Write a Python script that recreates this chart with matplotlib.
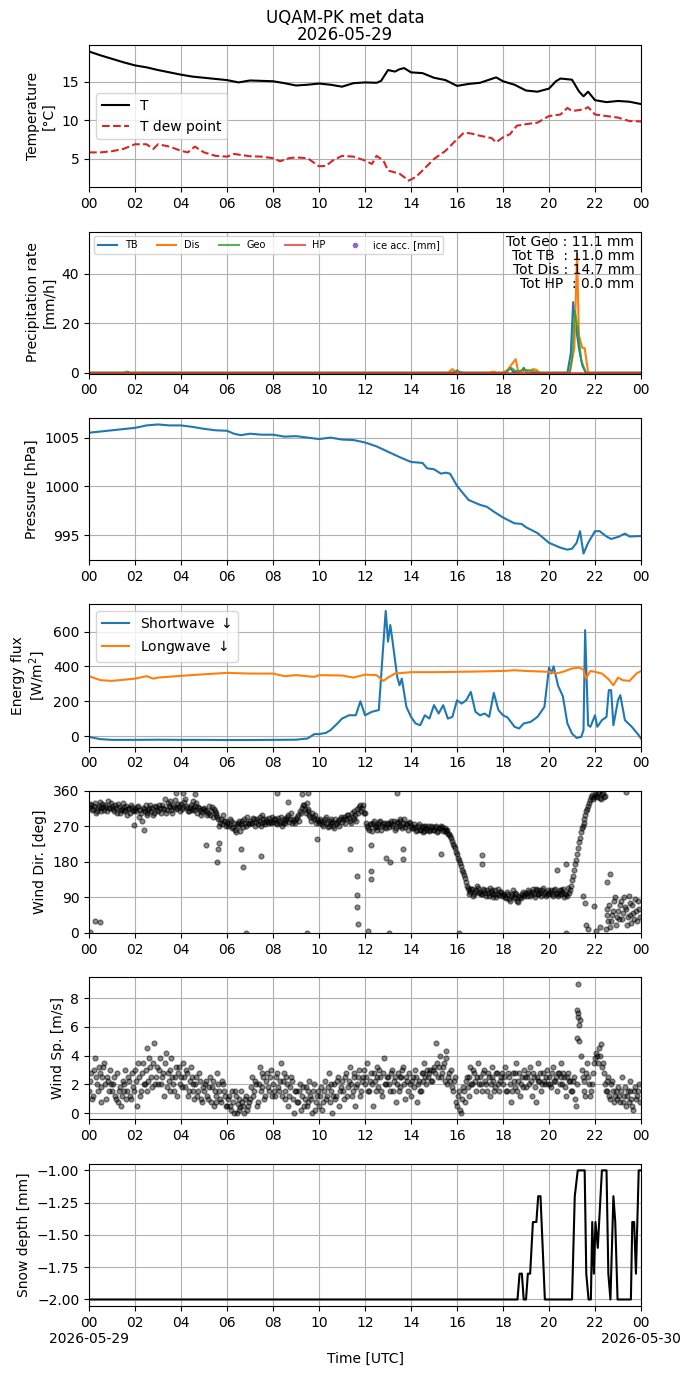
import numpy as np
import pandas as pd
import matplotlib
matplotlib.use('Agg')
import matplotlib.pyplot as plt
import matplotlib.dates as mdates
from matplotlib.ticker import FuncFormatter

day0 = pd.Timestamp('2026-05-29')

# ---- temperature [degC]
t_hours = [0, 0.5, 1, 1.5, 2, 2.5, 3, 3.5, 4, 4.5, 5, 5.5, 6, 6.5, 7, 7.5, 8, 8.5, 9, 9.5,
           10, 10.5, 11, 11.5, 12, 12.5, 12.7, 13, 13.3, 13.5, 13.7, 14, 14.5, 15, 15.5, 16,
           16.5, 17, 17.5, 17.7, 18, 18.5, 19, 19.5, 20, 20.3, 20.5, 21, 21.3, 21.5, 21.7,
           22, 22.5, 23, 23.5, 24]
t_air = [18.9, 18.4, 17.95, 17.5, 17.1, 16.85, 16.5, 16.2, 15.9, 15.65, 15.5, 15.35, 15.2,
         14.9, 15.15, 15.1, 15.05, 14.8, 14.5, 14.6, 14.75, 14.6, 14.35, 14.8, 14.9, 14.85,
         15.1, 16.5, 16.3, 16.6, 16.75, 16.2, 16.1, 15.5, 15.2, 14.45, 14.7, 14.85, 15.35,
         15.55, 15.05, 14.6, 13.85, 13.7, 14.1, 15.05, 15.4, 15.25, 13.75, 13.1, 13.7, 12.6,
         12.35, 12.5, 12.4, 12.1]
td_hours = [0, 0.5, 1, 1.5, 2, 2.5, 2.8, 3, 3.5, 4, 4.3, 4.6, 5, 5.5, 6, 6.3, 7, 7.5, 8, 8.3,
            8.7, 9, 9.5, 10, 10.3, 10.6, 11, 11.5, 12, 12.3, 12.5, 12.8, 13, 13.5, 13.9, 14.2,
            14.5, 15, 15.5, 16, 16.3, 16.6, 17, 17.5, 17.7, 18, 18.3, 18.6, 19, 19.5, 20,
            20.5, 20.8, 21, 21.5, 21.7, 22, 22.5, 23, 23.5, 24]
t_dew = [5.85, 5.85, 6.0, 6.3, 6.9, 6.9, 6.3, 6.9, 6.6, 6.05, 5.85, 6.6, 5.85, 5.4, 5.3, 5.65,
         5.35, 5.3, 5.1, 4.7, 5.1, 5.2, 5.1, 4.05, 4.1, 4.8, 5.4, 5.3, 4.8, 4.35, 5.4, 4.8,
         3.5, 3.1, 2.2, 2.65, 3.5, 5.0, 6.05, 7.55, 8.4, 8.3, 8.0, 7.7, 7.15, 7.8, 8.2, 9.3,
         9.5, 9.7, 10.55, 10.75, 11.6, 11.2, 11.4, 11.7, 10.75, 10.55, 10.35, 9.9, 9.85]

# ---- precipitation rate [mm/h]
tb_hours = [0, 15.7, 15.9, 16.0, 16.1, 16.3, 18.0, 18.2, 18.3, 18.45, 18.8, 18.9, 19.0, 19.3,
            20.8, 20.95, 21.05, 21.15, 21.3, 21.45, 21.6, 24]
tb_rate = [0, 0, 0.3, 1.0, 0.3, 0, 0, 0.8, 2.2, 0.3, 0.5, 2.0, 0.4, 0, 0, 8, 28.5, 20, 10, 3,
           0, 0]
dis_hours = [0, 15.6, 15.8, 15.95, 16.2, 17.4, 17.6, 17.7, 18.0, 18.2, 18.55, 18.65, 18.75,
             19.0, 19.15, 19.3, 19.45, 19.6, 20.9, 21.1, 21.22, 21.3, 21.45, 21.55, 21.7, 24]
dis_rate = [0, 0, 1.5, 0.4, 0, 0, 0.5, 0, 0, 1.2, 5.5, 1.0, 0.3, 1.0, 0.3, 1.5, 1.2, 0, 0, 10,
            48, 15, 10, 10, 0, 0]
geo_hours = [0, 1.5, 1.65, 1.8, 15.8, 16.0, 16.2, 18.1, 18.35, 18.6, 18.9, 19.2, 19.6, 20.9,
             21.0, 21.12, 21.25, 21.4, 21.6, 24]
geo_rate = [0, 0, 0.5, 0, 0, 0.6, 0, 0, 2.0, 0.5, 1.2, 1.0, 0, 0, 6, 25, 18, 5, 0, 0]
hp_hours = [0, 24]
hp_rate = [0, 0]
ice_hours = []
ice_acc = []
totals_txt = 'Tot Geo : 11.1 mm\nTot TB  : 11.0 mm\nTot Dis : 14.7 mm\nTot HP  : 0.0 mm'

# ---- pressure [hPa]
p_hours = [0, 1, 2, 2.5, 3, 3.5, 4, 4.5, 5, 5.5, 6, 6.3, 6.6, 7, 7.5, 8, 8.5, 9, 9.5, 10,
           10.5, 11, 11.5, 12, 12.5, 13, 13.5, 14, 14.5, 14.7, 15, 15.3, 15.5, 15.7, 16, 16.5,
           17, 17.3, 17.6, 18, 18.5, 18.8, 19, 19.5, 20, 20.5, 20.8, 21, 21.2, 21.35, 21.5,
           21.7, 22, 22.2, 22.5, 22.7, 23, 23.3, 23.5, 24]
pres = [1005.5, 1005.75, 1006.0, 1006.25, 1006.35, 1006.25, 1006.25, 1006.1, 1005.9,
        1005.75, 1005.7, 1005.4, 1005.25, 1005.4, 1005.3, 1005.3, 1005.1, 1005.15, 1005.0,
        1004.85, 1005.0, 1004.8, 1004.75, 1004.5, 1004.1, 1003.55, 1003.0, 1002.5, 1002.4,
        1001.85, 1001.75, 1001.3, 1001.4, 1001.3, 1000.05, 998.6, 998.1, 997.9, 997.4, 996.8,
        996.2, 996.15, 995.8, 995.2, 994.2, 993.7, 993.5, 993.6, 994.2, 995.4, 993.1, 994.2,
        995.4, 995.4, 994.85, 994.6, 994.8, 995.15, 994.85, 994.9]

# ---- radiation [W/m2]
sw_hours = [0, 0.5, 1, 2, 3, 4, 5, 6, 7, 8, 9, 9.5, 9.8, 10, 10.3, 10.5, 10.8, 11, 11.3,
            11.6, 11.8, 12.0, 12.3, 12.6, 12.8, 12.9, 13.0, 13.1, 13.2, 13.4, 13.5, 13.6,
            13.8, 14.0, 14.2, 14.4, 14.6, 14.8, 15.0, 15.2, 15.4, 15.6, 15.8, 16.0, 16.2,
            16.4, 16.6, 16.8, 17.0, 17.2, 17.4, 17.6, 17.8, 18.0, 18.2, 18.5, 18.7, 18.9,
            19.2, 19.5, 19.8, 20.0, 20.1, 20.2, 20.4, 20.6, 20.8, 21.0, 21.2, 21.4, 21.5,
            21.57, 21.7, 21.8, 22.0, 22.1, 22.3, 22.5, 22.6, 22.7, 22.8, 23.0, 23.1, 23.3,
            23.6, 23.9, 24]
sw_down = [-4, -17, -21, -21, -20, -21, -21, -22, -22, -21, -20, -13, 12, 12, 19, 35, 73,
           101, 120, 120, 200, 120, 140, 150, 532, 718, 542, 637, 542, 340, 292, 330, 168,
           111, 73, 63, 120, 101, 178, 130, 178, 101, 111, 206, 187, 206, 254, 140, 120, 130,
           111, 248, 150, 120, 107, 54, 44, 73, 82, 111, 168, 394, 360, 400, 287, 230, 73,
           15, -10, -4, 35, 608, 63, 54, 120, 54, 92, 111, 264, 264, 63, 206, 235, 92, 54, 6,
           -13]
lw_hours = [0, 0.5, 1, 2, 2.5, 2.8, 3, 4, 5, 6, 7, 8, 8.5, 9, 9.8, 10, 11, 11.5, 12, 12.5,
            12.8, 13.0, 13.3, 14, 15, 16, 17, 18, 18.5, 19, 20, 20.3, 20.6, 21.0, 21.3, 21.5,
            21.6, 21.8, 22.0, 22.3, 22.6, 22.8, 23.0, 23.2, 23.5, 23.8, 24]
lw_down = [344, 321, 317, 330, 344, 330, 336, 346, 355, 363, 359, 359, 344, 350, 340, 350,
           348, 336, 353, 350, 317, 336, 359, 367, 367, 369, 371, 374, 378, 374, 369, 359,
           369, 388, 393, 382, 330, 374, 369, 359, 325, 292, 336, 321, 317, 359, 374]

# ---- wind direction [deg], samples every 5 min (a) and the ones in between (b)
wdir_a = [320, 325, 315, 330, 310, 322, 318, 328, 312, 320, 335, 316,
          322, 310, 318, 326, 305, 315, 320, 312, 300, 318, 325, 310,
          315, 320, 295, 305, 318, 310, 300, 312, 325, 316, 305, 320,
          310, 318, 325, 315, 305, 330, 320, 312, 325, 338, 318, 322,
          328, 320, 340, 316, 310, 325, 318, 312, 330, 320, 312, 306,
          318, 310, 305, 300, 320, 315, 300, 295, 270, 290, 300, 285,
          280, 275, 285, 268, 262, 275, 280, 258, 285, 290, 272, 280,
          285, 278, 290, 282, 275, 295, 280, 288, 276, 285, 292, 280,
          282, 290, 275, 285, 295, 280, 278, 290, 300, 288, 280, 284,
          290, 300, 310, 318, 325, 305, 315, 300, 285, 295, 300, 290,
          278, 285, 270, 288, 280, 272, 290, 282, 265, 278, 285, 290,
          282, 295, 288, 300, 285, 305, 290, 298, 315, 320, 310, 325,
          305, 270, 262, 275, 280, 268, 260, 275, 285, 270, 278, 265,
          275, 280, 270, 285, 265, 278, 290, 272, 280, 268, 275, 282,
          272, 265, 268, 260, 275, 262, 270, 258, 265, 272, 260, 268,
          262, 270, 258, 265, 268, 260, 255, 262, 250, 240, 225, 215,
          200, 185, 170, 155, 140, 120, 110, 105, 112, 98, 108, 115,
          105, 98, 110, 95, 102, 115, 100, 92, 108, 100, 96, 104,
          100, 92, 105, 85, 95, 110, 88, 98, 78, 92, 100, 95,
          102, 110, 95, 105, 98, 112, 100, 108, 95, 115, 105, 98,
          100, 108, 95, 112, 102, 98, 110, 105, 92, 100, 115, 108,
          135, 160, 185, 215, 240, 265, 280, 300, 315, 330, 345, 340,
          352, 345, 358, 340, 355, 348, 60, 30, 15, 45, 80, 20,
          55, 70, 35, 90, 60, 40, 75, 25, 50, 85, 30, 60]
wdir_b = [328, 312, 322, 305, 318, 332, 310, 320, 325, 308, 318, 330,
          315, 325, 305, 320, 312, 330, 308, 322, 315, 305, 320, 312,
          308, 322, 312, 285, 315, 325, 305, 318, 310, 300, 322, 312,
          325, 305, 318, 340, 312, 322, 335, 305, 320, 315, 328, 310,
          315, 332, 322, 308, 320, 312, 335, 322, 305, 318, 300, 315,
          312, 300, 322, 308, 295, 310, 305, 290, 280, 275, 285, 270,
          272, 288, 265, 280, 255, 270, 285, 275, 268, 280, 295, 275,
          280, 292, 272, 288, 285, 270, 298, 282, 290, 278, 282, 295,
          288, 278, 292, 280, 272, 290, 285, 295, 282, 305, 290, 278,
          295, 285, 305, 325, 315, 330, 310, 295, 305, 290, 280, 285,
          290, 275, 282, 295, 268, 285, 278, 270, 288, 280, 272, 295,
          290, 280, 300, 292, 278, 295, 310, 285, 305, 325, 318, 305,
          280, 265, 275, 258, 285, 272, 268, 282, 262, 276, 268, 280,
          268, 285, 275, 262, 282, 270, 285, 265, 290, 275, 262, 278,
          265, 275, 258, 270, 262, 268, 255, 272, 262, 258, 270, 262,
          268, 255, 265, 272, 258, 265, 262, 250, 245, 232, 220, 205,
          190, 178, 160, 148, 130, 115, 100, 112, 95, 105, 118, 102,
          98, 112, 102, 108, 95, 105, 110, 98, 92, 112, 105, 95,
          96, 88, 100, 80, 98, 92, 102, 82, 95, 88, 105, 100,
          95, 105, 100, 112, 92, 108, 98, 102, 110, 100, 95, 108,
          105, 98, 110, 100, 95, 108, 98, 112, 100, 95, 102, 120,
          145, 175, 200, 230, 255, 272, 290, 310, 322, 338, 350, 345,
          348, 355, 342, 352, 345, 10, 45, 70, 30, 55, 90, 40,
          35, 80, 50, 65, 20, 95, 45, 70, 35, 55, 80, 40]
wdir_extra_hours = [0.05, 0.24, 0.48, 1.95, 2.4, 3.8, 4.1, 4.6, 5.07, 5.55, 5.6, 5.63, 6.62,
                    6.69, 6.81, 7.48, 8.16, 8.67, 9.27, 9.46, 9.54, 9.9, 11.36, 11.65, 11.65,
                    11.65, 11.7, 12.12, 12.25, 12.28, 12.25, 12.92, 13.07, 13.04, 13.4, 13.63,
                    13.63, 15.3, 16.09, 17.07, 17.07, 20.36, 20.76, 20.76, 21.47, 21.55,
                    21.6, 21.7, 21.95, 22.05, 22.2, 22.66, 22.5, 23.33]
wdir_extra = [3, 31, 27, 273, 261, 356, 356, 352, 223, 179, 212, 229, 212, 166, 0, 194, 356,
              333, 352, 0, 356, 238, 214, 145, 96, 67, 23, 6, 158, 138, 223, 189, 179, 0, 356,
              187, 212, 200, 0, 197, 174, 160, 0, 174, 93, 77, 20, 10, 69, 5, 15, 149, 130,
              357]

# ---- wind speed [m/s]
wspd_a = [1.5, 2.8, 1.2, 3.8, 2.0, 3.2, 1.8, 2.5, 3.5, 1.0, 2.2, 3.0,
          1.5, 2.5, 1.0, 0.8, 1.8, 1.2, 2.0, 3.0, 1.5, 2.2, 1.0, 1.8,
          3.0, 0.5, 2.5, 1.5, 3.5, 2.0, 4.5, 2.2, 3.2, 1.8, 4.85, 2.5,
          2.0, 3.8, 2.5, 1.2, 4.2, 2.8, 1.5, 3.8, 2.0, 2.5, 1.2, 3.2,
          2.5, 3.5, 1.8, 2.8, 1.5, 3.2, 2.0, 1.0, 2.5, 1.5, 2.2, 0.8,
          1.5, 2.2, 1.0, 2.5, 1.8, 0.5, 1.2, 2.8, 1.5, 0.8, 2.0, 1.2,
          0.5, 1.2, 0.2, 0.8, 1.5, 0.0, 1.0, 0.4, 0.8, 0.0, 1.2, 0.5,
          1.0, 2.5, 1.5, 2.0, 0.8, 3.2, 1.8, 2.5, 1.2, 2.8, 1.5, 3.0,
          2.0, 1.2, 2.8, 1.5, 3.5, 2.2, 1.0, 2.5, 0.5, 1.8, 2.2, 0.0,
          1.5, 0.8, 2.0, 1.2, 0.5, 1.8, 0.8, 2.2, 1.0, 1.5, 0.2, 1.2,
          0.5, 1.8, 0.8, 2.2, 1.2, 2.8, 1.5, 0.0, 2.0, 1.2, 2.5, 1.5,
          2.2, 1.0, 2.8, 1.8, 3.2, 1.2, 2.5, 0.5, 2.0, 3.0, 1.5, 2.5,
          2.0, 3.5, 1.5, 2.8, 0.5, 2.2, 3.2, 1.8, 2.5, 1.2, 3.8, 2.0,
          2.5, 1.5, 3.0, 2.2, 0.8, 2.8, 1.8, 2.5, 3.2, 1.0, 2.2, 2.8,
          1.2, 2.5, 3.0, 0.8, 2.2, 1.5, 2.8, 3.5, 2.0, 2.5, 3.0, 2.2,
          3.2, 4.85, 2.5, 4.0, 2.8, 3.5, 4.3, 2.0, 2.8, 3.0, 1.5, 2.5,
          0.5, 1.5, 0.0, 1.8, 0.8, 2.5, 1.2, 3.2, 2.0, 2.8, 1.5, 3.5,
          2.5, 1.5, 3.0, 2.0, 2.8, 1.2, 3.2, 2.2, 1.8, 2.8, 1.5, 2.5,
          2.0, 3.2, 1.5, 2.5, 0.8, 2.8, 1.8, 3.5, 2.2, 1.2, 2.5, 3.0,
          1.8, 2.8, 3.2, 1.2, 2.5, 0.8, 3.5, 2.2, 1.5, 2.8, 2.0, 3.0,
          2.5, 1.8, 3.2, 2.2, 1.5, 2.8, 3.5, 2.0, 2.5, 1.2, 2.8, 2.2,
          1.5, 2.5, 0.5, 9.0, 6.5, 3.0, 2.2, 1.2, 3.5, 2.0, 1.5, 2.8,
          3.8, 4.0, 4.5, 4.8, 3.5, 2.0, 1.5, 2.5, 1.0, 2.2, 0.8, 1.5,
          1.8, 0.8, 2.5, 1.2, 0.5, 1.5, 2.2, 1.0, 0.2, 1.8, 1.2, 2.0]
wspd_b = [2.2, 1.0, 3.0, 2.5, 1.5, 2.8, 0.8, 3.2, 2.0, 2.5, 1.5, 2.0,
          2.0, 1.2, 2.8, 1.5, 0.5, 2.2, 1.5, 1.0, 2.5, 1.2, 2.8, 1.5,
          2.2, 3.5, 1.2, 2.8, 2.0, 3.0, 1.5, 3.8, 2.5, 3.5, 2.0, 3.2,
          3.0, 2.0, 2.8, 3.5, 1.8, 2.2, 3.0, 2.5, 1.5, 3.2, 2.8, 2.0,
          1.8, 2.5, 3.0, 1.2, 2.2, 2.5, 1.5, 2.0, 1.2, 2.8, 1.0, 1.8,
          2.0, 1.2, 1.8, 0.8, 2.2, 1.5, 0.8, 2.0, 1.0, 2.2, 1.5, 0.5,
          1.0, 0.5, 1.5, 0.0, 1.2, 0.6, 0.2, 1.5, 0.5, 1.0, 0.2, 0.8,
          1.8, 1.2, 2.2, 0.5, 2.0, 1.5, 2.8, 1.0, 2.2, 1.8, 2.5, 1.2,
          1.5, 2.5, 1.8, 2.2, 1.2, 2.8, 1.5, 2.0, 1.2, 2.5, 1.0, 1.5,
          0.8, 1.5, 0.2, 1.8, 1.0, 0.5, 1.5, 1.2, 0.0, 2.0, 0.8, 1.5,
          1.2, 0.2, 1.5, 1.0, 1.8, 0.8, 2.0, 1.2, 1.0, 2.2, 0.5, 1.8,
          1.5, 2.5, 1.2, 2.2, 2.0, 1.5, 2.8, 1.8, 2.5, 1.2, 2.2, 3.0,
          2.5, 1.5, 2.2, 2.0, 2.8, 1.5, 2.5, 3.0, 1.5, 2.8, 2.0, 2.5,
          2.0, 2.8, 1.5, 2.5, 2.0, 1.5, 2.5, 3.0, 2.0, 2.5, 1.5, 2.0,
          2.2, 1.8, 2.5, 2.0, 1.5, 2.8, 2.2, 2.5, 3.0, 2.8, 2.2, 3.0,
          2.8, 3.5, 3.2, 2.5, 3.2, 2.2, 3.8, 2.5, 2.2, 1.8, 2.2, 0.8,
          1.2, 0.2, 1.0, 1.5, 2.2, 1.8, 2.5, 2.0, 3.0, 2.2, 2.5, 2.0,
          2.0, 2.8, 2.2, 1.5, 2.5, 2.0, 2.5, 1.5, 2.8, 2.0, 2.2, 2.8,
          2.5, 1.5, 2.8, 2.0, 1.5, 2.2, 2.8, 1.5, 2.8, 2.0, 1.8, 2.5,
          2.5, 2.0, 2.2, 2.8, 1.8, 2.5, 2.2, 2.8, 2.0, 2.2, 2.5, 2.0,
          2.0, 2.8, 2.2, 2.5, 2.8, 2.0, 2.5, 2.8, 1.8, 2.5, 2.2, 1.5,
          2.2, 1.0, 2.0, 5.0, 4.0, 2.5, 1.5, 2.8, 2.5, 1.2, 2.0, 3.5,
          4.2, 3.5, 4.0, 3.2, 2.8, 1.5, 2.2, 1.2, 2.0, 1.5, 1.2, 1.0,
          1.2, 1.5, 0.8, 1.8, 1.2, 0.8, 1.5, 0.5, 1.5, 1.0, 1.5, 0.8]
wspd_extra_hours = [21.22, 21.24, 21.27, 21.29, 21.2]
wspd_extra = [7.2, 6.7, 7.0, 6.1, 5.2]

# ---- snow depth [mm]
sd_hours = [0, 18.63, 18.72, 18.82, 18.9, 19.0, 19.08, 19.18, 19.3, 19.45, 19.53, 19.63,
            19.82, 21.0, 21.12, 21.25, 21.55, 21.62, 21.72, 21.82, 21.88, 21.95, 22.02,
            22.12, 22.3, 22.5, 22.58, 22.67, 22.8, 22.88, 22.98, 23.56, 23.62, 23.7, 23.78,
            23.9, 24]
sd_depth = [-2.0, -2.0, -1.8, -1.8, -2.0, -2.0, -1.8, -1.8, -1.4, -1.4, -1.2, -1.2, -2.0,
            -2.0, -1.2, -1.0, -1.0, -1.8, -2.0, -2.0, -1.4, -1.8, -1.4, -1.6, -1.0, -1.0,
            -1.8, -2.0, -1.2, -1.4, -2.0, -2.0, -1.4, -1.4, -1.8, -1.0, -1.0]


def tt(h):
    return day0 + pd.to_timedelta(np.asarray(h, dtype=float), unit='h')


# sample times of the wind records
wa_hours = np.arange(len(wdir_a)) / 12.
wb_hours = wa_hours + 1 / 24.

fig, axs = plt.subplots(7, 1, figsize=(6.9, 13.77), dpi=100)
plt.subplots_adjust(left=0.129, right=0.929, top=0.9673, bottom=0.0516, hspace=0.313)
fig.suptitle('UQAM-PK met data\n2026-05-29', fontsize=12, y=0.9935, va='top',
             linespacing=0.95)

# temperature
ax = axs[0]
ax.plot(tt(t_hours), t_air, color='k', lw=1.5, label='T')
ax.plot(tt(td_hours), t_dew, '--', color='C3', lw=1.5, label='T dew point')
ax.set_ylabel('Temperature\n[°C]')
ax.legend(loc='center left')

# precipitation
ax = axs[1]
ax.plot(tt(tb_hours), tb_rate, color='C0', label='TB')
ax.plot(tt(dis_hours), dis_rate, color='C1', label='Dis')
ax.plot(tt(geo_hours), geo_rate, color='C2', alpha=0.8, label='Geo')
ax.plot(tt(hp_hours), hp_rate, color='C3', alpha=0.7, label='HP')
ax.plot(tt(ice_hours), ice_acc, 'o', color='C4', ms=3, label='ice acc. [mm]')
ax.set_ylim(-0.3, 57)
ax.set_ylabel('Precipitation rate\n[mm/h]')
ax.legend(loc='upper left', ncol=5, fontsize=7)
ax.text(0.988, 0.975, totals_txt, transform=ax.transAxes, ha='right', va='top',
        fontsize=10, multialignment='right', linespacing=1.0)

# pressure
ax = axs[2]
ax.plot(tt(p_hours), pres, color='C0')
ax.set_ylabel('Pressure [hPa]')

# radiation
ax = axs[3]
ax.plot(tt(sw_hours), sw_down, color='C0', label='Shortwave $\\downarrow$')
ax.plot(tt(lw_hours), lw_down, color='C1', label='Longwave $\\downarrow$')
ax.set_ylabel('Energy flux\n[W/m$^2$]')
ax.legend(loc='upper left')

# wind direction
ax = axs[4]
ax.plot(tt(wa_hours), wdir_a, 'o', color='k', alpha=0.45, ms=3.5)
ax.plot(tt(wb_hours), wdir_b, 'o', color='k', alpha=0.45, ms=3.5)
ax.plot(tt(wdir_extra_hours), wdir_extra, 'o', color='k', alpha=0.45, ms=3.5)
ax.set_ylim(0, 360)
ax.set_yticks([0, 90, 180, 270, 360])
ax.set_ylabel('Wind Dir. [deg]')

# wind speed
ax = axs[5]
ax.plot(tt(wa_hours), wspd_a, 'o', color='k', alpha=0.45, ms=3.5)
ax.plot(tt(wb_hours), wspd_b, 'o', color='k', alpha=0.45, ms=3.5)
ax.plot(tt(wspd_extra_hours), wspd_extra, 'o', color='k', alpha=0.45, ms=3.5)
ax.set_ylabel('Wind Sp. [m/s]')

# snow depth
ax = axs[6]
ax.plot(tt(sd_hours), sd_depth, color='k', lw=1.5)
ax.set_ylabel('Snow depth [mm]')
ax.set_xlabel('Time [UTC]')


def bottom_fmt(x, pos):
    d = mdates.num2date(x)
    if d.hour == 0:
        return d.strftime('%H\n%Y-%m-%d')
    return d.strftime('%H')


for i, ax in enumerate(axs):
    ax.set_xlim(day0, day0 + pd.Timedelta(hours=24))
    ax.xaxis.set_major_locator(mdates.HourLocator(interval=2))
    if i == len(axs) - 1:
        ax.xaxis.set_major_formatter(FuncFormatter(bottom_fmt))
    else:
        ax.xaxis.set_major_formatter(mdates.DateFormatter('%H'))
    ax.grid(True)

plt.savefig('out.png', dpi=100)
